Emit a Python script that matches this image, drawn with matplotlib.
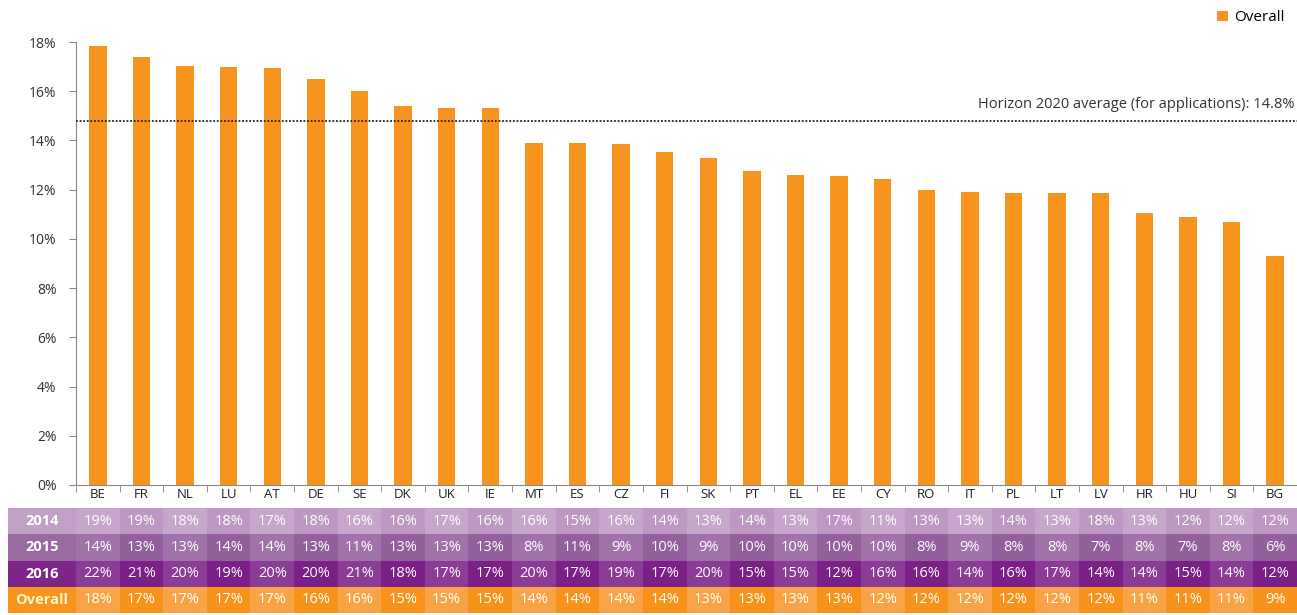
import matplotlib
matplotlib.use("Agg")
import matplotlib.pyplot as plt
from matplotlib.patches import Rectangle
from matplotlib.ticker import FuncFormatter, FixedLocator

plt.rcParams["font.family"] = ["Open Sans", "DejaVu Sans"]

# ── data ─────────────────────────────────────────────────────────────
countries = ["BE", "FR", "NL", "LU", "AT", "DE", "SE", "DK", "UK", "IE",
             "MT", "ES", "CZ", "FI", "SK", "PT", "EL", "EE", "CY", "RO",
             "IT", "PL", "LT", "LV", "HR", "HU", "SI", "BG"]
overall = [17.85, 17.4, 17.03, 17.0, 16.95, 16.5, 16.0, 15.4, 15.3, 15.3,
           13.9, 13.9, 13.85, 13.55, 13.3, 12.75, 12.6, 12.55, 12.45, 12.0,
           11.9, 11.85, 11.85, 11.85, 11.05, 10.9, 10.7, 9.3]
h2020_avg = 14.8

row_labels = ["2014", "2015", "2016", "Overall"]
vals_2014 = [19, 19, 18, 18, 17, 18, 16, 16, 17, 16, 16, 15, 16, 14, 13,
             14, 13, 17, 11, 13, 13, 14, 13, 18, 13, 12, 12, 12]
vals_2015 = [14, 13, 13, 14, 14, 13, 11, 13, 13, 13, 8, 11, 9, 10, 9,
             10, 10, 10, 10, 8, 9, 8, 8, 7, 8, 7, 8, 6]
vals_2016 = [22, 21, 20, 19, 20, 20, 21, 18, 17, 17, 20, 17, 19, 17, 20,
             15, 15, 12, 16, 16, 14, 16, 17, 14, 14, 15, 14, 12]
vals_overall = [18, 17, 17, 17, 17, 16, 16, 15, 15, 15, 14, 14, 14, 14, 13,
                13, 13, 13, 12, 12, 12, 12, 12, 12, 11, 11, 11, 9]

# ── colours ──────────────────────────────────────────────────────────
ORANGE = "#f7941d"
row_colors = [("#c7a6cb", "#bd98c2", "#c1a0c6"),   # 2014: even, odd, label
              ("#a273aa", "#93609d", "#9b6aa3"),   # 2015
              ("#8b3c97", "#7a2086", "#7d2687"),   # 2016
              ("#f9a347", "#f7931b", "#f7941d")]   # Overall
label_text = ["white", "white", "white", "#fff6c8"]

W, H = 1297, 615
fig = plt.figure(figsize=(W / 100, H / 100), dpi=100)
fig.patch.set_facecolor("white")

# main axes
ax = fig.add_axes([76 / W, 130 / H, (W - 76) / W, 443 / H])
x = list(range(len(countries)))
ax.bar(x, overall, width=0.4, color=ORANGE, label="Overall", zorder=2)
ax.axhline(h2020_avg, color="#222222", lw=1.3, ls=(0, (1, 1)), zorder=3)
ax.text(27.45, h2020_avg + 0.35,
        f"Horizon 2020 average (for applications): {h2020_avg}%",
        ha="right", va="bottom", fontsize=10.5, color="#333333")

ax.set_xlim(-0.5, len(countries) - 0.5)
ax.set_ylim(0, 18)
ax.set_yticks(range(0, 19, 2))
ax.yaxis.set_major_formatter(FuncFormatter(lambda v, p: f"{v:.0f}%"))
ax.set_xticks(x)
ax.set_xticklabels(countries, fontsize=9.5, color="#222222")
ax.xaxis.set_minor_locator(FixedLocator([i - 0.5 for i in range(len(countries) + 1)]))
ax.tick_params(axis="x", which="major", length=0, pad=2)
ax.tick_params(axis="x", which="minor", length=5, direction="out", color="#888888")
ax.tick_params(axis="y", length=5, color="#888888", labelsize=10,
               labelcolor="#333333", pad=9)
for s in ["top", "right"]:
    ax.spines[s].set_visible(False)
for s in ["left", "bottom"]:
    ax.spines[s].set_color("#888888")

ax.legend(loc="upper right", bbox_to_anchor=(0.995, 1.085), frameon=False,
          fontsize=11, handlelength=0.7, handleheight=0.7, handletextpad=0.4,
          borderaxespad=0)

# table axes
tb = fig.add_axes([8 / W, 2 / H, (W - 8) / W, 105 / H])
label_w = (76 - 8) / 43.6
tb.set_xlim(-0.5 - label_w, len(countries) - 0.5)
tb.set_ylim(0, 4)
tb.axis("off")
table_rows = [vals_2014, vals_2015, vals_2016, vals_overall]
for r, (lab, vals) in enumerate(zip(row_labels, table_rows)):
    y0 = 3 - r
    even_c, odd_c, lab_c = row_colors[r]
    tb.add_patch(Rectangle((-0.5 - label_w, y0), label_w, 1,
                           facecolor=lab_c, edgecolor="none"))
    tb.text(-0.5 - label_w / 2, y0 + 0.5, lab, ha="center", va="center",
            fontsize=10.5, fontweight="bold", color=label_text[r])
    for i, v in enumerate(vals):
        tb.add_patch(Rectangle((i - 0.5, y0), 1, 1,
                               facecolor=even_c if i % 2 == 0 else odd_c,
                               edgecolor="none"))
        tb.text(i, y0 + 0.5, f"{v}%", ha="center", va="center",
                fontsize=10.5, color="white")

fig.savefig("out.png", dpi=100)
